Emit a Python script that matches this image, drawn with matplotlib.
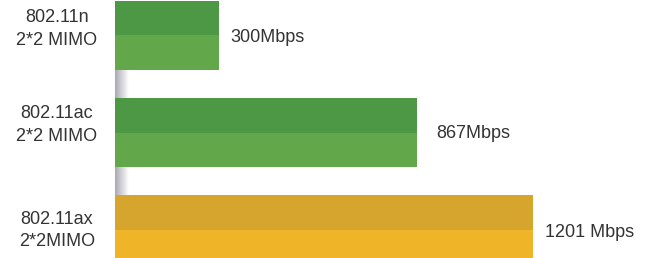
import numpy as np
import matplotlib
matplotlib.use("Agg")
import matplotlib.pyplot as plt
from matplotlib.colors import LinearSegmentedColormap

categories = ["802.11n\n2*2 MIMO", "802.11ac\n2*2 MIMO", "802.11ax\n2*2MIMO"]
values = [300, 867, 1201]
value_labels = ["300Mbps", "867Mbps", "1201 Mbps"]

dark_colors = ["#4C9844", "#4C9844", "#D6A52D"]
light_colors = ["#62A84B", "#62A84B", "#F0B428"]

W, H = 648, 258
fig = plt.figure(figsize=(W / 100, H / 100), dpi=100)
left_px = 115
px_per_unit = 0.348
ax = fig.add_axes([left_px / W, 0, 1 - left_px / W, 1])
spacing = 97.0
top = -35.5 / spacing
bottom = 2 + (H - 229.5) / spacing
ax.axis("off")

h = 0.71
ys = np.arange(len(values))

# gray gradient shadows in the gaps at the axis base
grad = np.linspace(0, 1, 64)[None, :]
cmap = LinearSegmentedColormap.from_list("sh", ["#A9A9B2", "#FFFFFF"])
shadow_w = 14 / px_per_unit
for i in range(len(values) - 1):
    y0 = ys[i] + h / 2
    y1 = ys[i + 1] - h / 2
    ax.imshow(grad, cmap=cmap, aspect="auto", extent=[0, shadow_w, y1, y0],
              zorder=0, interpolation="bilinear")

for y, v, dc, lc in zip(ys, values, dark_colors, light_colors):
    ax.barh(y, v, height=h, color=lc, left=0, zorder=2, linewidth=0)
    ax.barh(y - h / 4, v, height=h / 2, color=dc, left=0, zorder=3, linewidth=0)

ax.set_xlim(0, (W - left_px) / px_per_unit)
ax.set_ylim(bottom, top)

label_offsets = [-0.07, -0.08, 0.01]
for y, cat, off in zip(ys, categories, label_offsets):
    fig.text(57 / W, 1 - (35.5 + (y + off) * spacing) / H, cat, ha="center", va="center",
             fontsize=13, family="Liberation Sans", color="#333333", linespacing=1.45)

val_offsets = [11, 20, 12]
val_dy = [2, 1, 3]
for y, v, lab, dx, dy in zip(ys, values, value_labels, val_offsets, val_dy):
    ax.annotate(lab, xy=(v, y), xytext=(dx * 0.72, -dy * 0.72), textcoords="offset points",
                ha="left", va="center", fontsize=13, family="Liberation Sans", color="#333333")

fig.savefig("out.png", dpi=100)
